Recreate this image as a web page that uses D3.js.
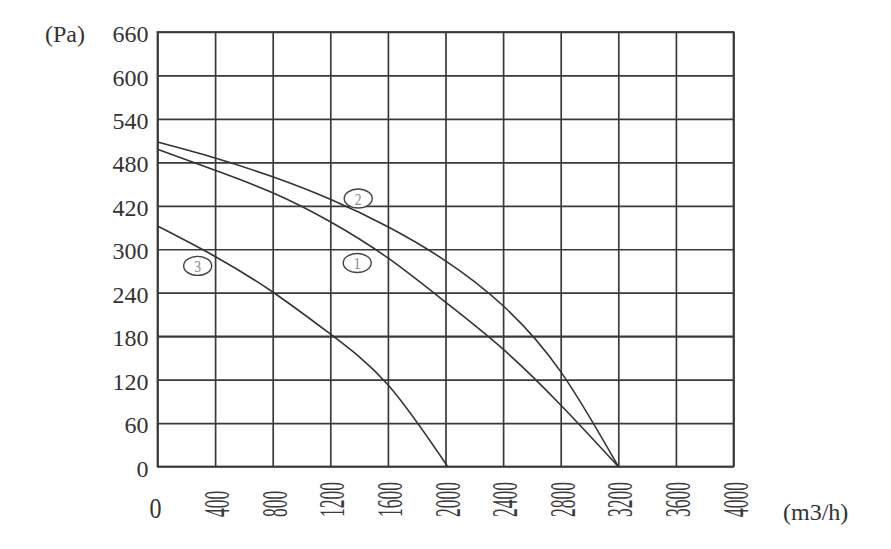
<!DOCTYPE html>
<html>
<head>
<meta charset="utf-8">
<script src="https://cdn.jsdelivr.net/npm/d3@7"></script>
<style>
  html, body { margin: 0; padding: 0; background: #ffffff; }
  svg { display: block; }
  text { font-family: "Liberation Serif", "Times New Roman", serif; fill: #333; }
</style>
</head>
<body>
<script>
// ---- data ----
const xTicks = [0, 400, 800, 1200, 1600, 2000, 2400, 2800, 3200, 3600, 4000];
const yTicks = [0, 60, 120, 180, 240, 300, 420, 480, 540, 600, 660];

const curve1Flow = [0, 400, 800, 1200, 1600, 2000, 2400, 2800, 3200];
const curve1Pa   = [498, 469, 438, 376, 288, 227, 162, 85, 0];

const curve2Flow = [0, 400, 800, 1200, 1600, 2000, 2400, 2800, 3200];
const curve2Pa   = [508, 486, 460, 429, 362, 284, 222, 131, 0];

const curve3Flow = [0, 400, 800, 1200, 1600, 2015];
const curve3Pa   = [364, 290, 241, 183, 113, 0];

const curveLabels = ["1", "2", "3"];
const labelFlow = [1387, 1394, 279];
const labelPa   = [281, 430, 277];

const yTitle = "(Pa)";
const xTitle = "(m3/h)";

// ---- layout ----
const W = 891, H = 549;
const pLeft = 157.5, pRight = 733.5, pTop = 32, pBottom = 466.5;
const step = (pBottom - pTop) / (yTicks.length - 1);

const svg = d3.select("body").append("svg").attr("width", W).attr("height", H);

const x = d3.scaleLinear().domain([0, 4000]).range([pLeft, pRight]);
// the printed axis jumps from 300 to 420 in one grid step
const y = d3.scaleLinear()
  .domain([0, 300, 420, 660])
  .range([pBottom, pBottom - 5 * step, pBottom - 6 * step, pTop]);

const gridColor = "#3a3a3a";

// vertical grid
const gx = svg.append("g").attr("transform", `translate(0,${pBottom})`)
  .call(d3.axisBottom(x).tickValues(xTicks).tickSize(-(pBottom - pTop)).tickFormat(""));
gx.select(".domain").remove();
gx.selectAll(".tick line").attr("stroke", gridColor).attr("stroke-width", 1.7);

// horizontal grid + labels
const gy = svg.append("g").attr("transform", `translate(${pLeft},0)`)
  .call(d3.axisLeft(y).tickValues(yTicks).tickSize(-(pRight - pLeft)).tickPadding(9).tickFormat(d => String(d)));
gy.attr("font-family", "Liberation Serif").attr("font-size", 24);
gy.select(".domain").remove();
gy.selectAll(".tick line").attr("stroke", gridColor).attr("stroke-width", d => d === 180 ? 2.2 : 1.7);
gy.selectAll(".tick text")
  .attr("font-size", 24).attr("dy", "0.4em")
  .style("fill", "#333")
  .style("font-family", '"Liberation Serif", serif');

// frame
svg.append("rect")
  .attr("x", pLeft).attr("y", pTop)
  .attr("width", pRight - pLeft).attr("height", pBottom - pTop)
  .attr("fill", "none").attr("stroke", gridColor).attr("stroke-width", 1.8);

// x tick labels
xTicks.forEach(v => {
  if (v === 0) {
    svg.append("text")
      .attr("transform", `translate(${x(v) - 2},518) scale(0.8,1)`)
      .attr("text-anchor", "middle")
      .attr("font-size", 30)
      .text(String(v));
  } else {
    svg.append("text")
      .attr("transform", `translate(${x(v) + 14},517) rotate(-90) scale(0.5,1)`)
      .attr("text-anchor", "start")
      .attr("font-size", 35)
      .style("fill", "#3a3a3a")
      .text(String(v));
  }
});

// axis titles
svg.append("text").attr("x", 45).attr("y", 41.5).attr("font-size", 24).text(yTitle);
svg.append("text").attr("x", 783).attr("y", 520).attr("font-size", 24).text(xTitle);

// curves
const line = d3.line().x(d => x(d[0])).y(d => y(d[1])).curve(d3.curveNatural);
const series = [
  d3.zip(curve1Flow, curve1Pa),
  d3.zip(curve2Flow, curve2Pa),
  d3.zip(curve3Flow, curve3Pa)
];
svg.append("g").selectAll("path").data(series).join("path")
  .attr("d", line)
  .attr("fill", "none")
  .attr("stroke", "#333")
  .attr("stroke-width", 1.6);

// curve labels
const lg = svg.append("g").selectAll("g").data(curveLabels).join("g")
  .attr("transform", (d, i) => `translate(${x(labelFlow[i])},${y(labelPa[i])})`);
lg.append("ellipse").attr("rx", 14).attr("ry", 9.5)
  .attr("fill", "#fff").attr("stroke", "#444").attr("stroke-width", 1.4);
lg.append("text")
  .attr("transform", "scale(0.8,1)")
  .attr("text-anchor", "middle").attr("dy", "0.35em")
  .attr("font-size", 17)
  .style("fill", "#888")
  .text(d => d);
</script>
</body>
</html>
